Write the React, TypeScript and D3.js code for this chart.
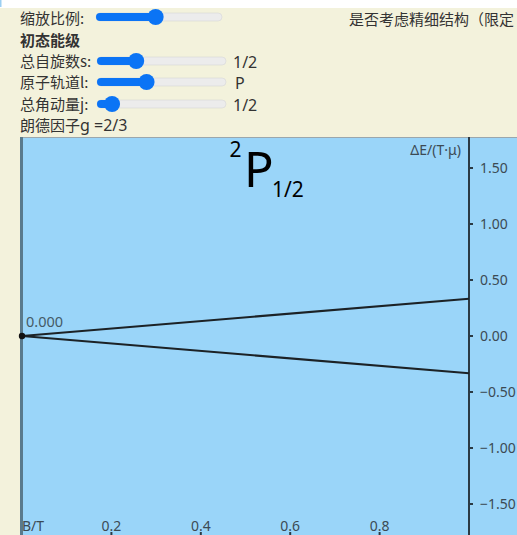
import React from "react";
import * as d3 from "d3";

// Zeeman splitting of the initial level: ΔE = g · mj · B
const fieldB = [0, 1];
const mjLevels = [0.5, -0.5];
const landeG = 2 / 3;
const energyTicks = [1.5, 1, 0.5, 0, -0.5, -1, -1.5];
const fieldTicks = [0.2, 0.4, 0.6, 0.8];

// Control panel rows
const quantumLabels = ["总自旋数s:", "原子轨道l:", "总角动量j:"];
const quantumValues = ["1/2", "P", "1/2"];
const quantumThumbs = [0.28, 0.37, 0.07];
const zoomThumb = 0.47;

const W = 517;
const H = 535;
const CJK = "'Noto Sans CJK SC', 'Noto Sans', sans-serif";
const LATIN = "'Noto Sans', 'Noto Sans CJK SC', sans-serif";

function Slider({ x0, x1, cy, frac }: { x0: number; x1: number; cy: number; frac: number }) {
  const tx = x0 + 7 + (x1 - x0 - 14) * frac;
  return (
    <g>
      <rect x={x0} y={cy - 4} width={x1 - x0} height={8} rx={4} fill="#ececec" stroke="#d6d6d6" strokeWidth={0.6} />
      <rect x={x0} y={cy - 4} width={tx - x0} height={8} rx={4} fill="#0b74f5" />
      <circle cx={tx} cy={cy} r={8} fill="#0b74f5" />
    </g>
  );
}

export default function App() {
  const x = d3.scaleLinear().domain([0, 1]).range([22, 469]);
  const y = d3.scaleLinear().domain([-1.777, 1.777]).range([535, 137]);

  const levelPath = (mj: number) =>
    d3
      .line<number>()
      .x((b) => x(b))
      .y((b) => y(landeG * mj * b))(fieldB) as string;

  const rowY = [67, 88, 110];

  return (
    <div style={{ position: "fixed", left: 0, top: 0 }}>
      <svg width={W} height={H} style={{ display: "block" }}>
        <rect x={0} y={0} width={W} height={H} fill="#f3f2dc" />
        <rect x={0} y={0} width={W} height={8} fill="#ffffff" />
        <rect x={0} y={0} width={1.5} height={7} fill="#9ccff2" />

        {/* controls */}
        <g fill="#333" fontFamily={CJK} fontSize={15}>
          <text x={20} y={24}>缩放比例:</text>
          <Slider x0={96} x1={222} cy={17} frac={zoomThumb} />
          <text x={349} y={25}>是否考虑精细结构（限定</text>
          <text x={20} y={46} fontWeight="bold">初态能级</text>
          {quantumLabels.map((lab, i) => (
            <g key={lab}>
              <text x={20} y={rowY[i]}>{lab}</text>
              <Slider x0={97} x1={226} cy={rowY[i] - 6} frac={quantumThumbs[i]} />
              <text x={i === 1 ? 235 : 233} y={rowY[i] + 1} fontFamily={LATIN} fontSize={16}>
                {quantumValues[i]}
              </text>
            </g>
          ))}
          <text x={20} y={131}>
            朗德因子<tspan fontFamily={LATIN} fontSize={16}>g =2/3</tspan>
          </text>
        </g>

        {/* plot area */}
        <rect x={20} y={137} width={W - 20} height={H - 137} fill="#9ad5f9" />
        <line x1={20} x2={W} y1={137.5} y2={137.5} stroke="#9aa7ad" strokeWidth={1} />
        <line x1={21.5} x2={21.5} y1={137} y2={H} stroke="#5a7a8c" strokeWidth={3} />

        {/* title */}
        <g fill="#000" fontFamily={LATIN}>
          <text x={229.5} y={157} fontSize={21}>2</text>
          <text x={244} y={187} fontSize={49}>P</text>
          <text x={272} y={197} fontSize={21}>1/2</text>
        </g>

        {/* energy axis on the right */}
        <line x1={469} x2={469} y1={137} y2={H} stroke="#2b3a44" strokeWidth={2} />
        <g fontFamily={LATIN} fontSize={14} fill="#3c4a54">
          {energyTicks.map((t) => (
            <g key={t}>
              <line x1={469} x2={473} y1={y(t)} y2={y(t)} stroke="#2b3a44" strokeWidth={2} />
              <text x={480} y={y(t) + 5}>{d3.format(".2f")(t)}</text>
            </g>
          ))}
          <text x={461} y={155} fontSize={14} textAnchor="end">ΔE/(T·μ)</text>
        </g>

        {/* field axis labels along the bottom */}
        <g fontFamily={LATIN} fontSize={14} fill="#3c4a54">
          <text x={22} y={531}>B/T</text>
          {fieldTicks.map((t) => (
            <g key={t}>
              <text x={x(t)} y={531} textAnchor="middle">{d3.format(".1f")(t)}</text>
              <line x1={x(t)} x2={x(t)} y1={532} y2={H} stroke="#2b3a44" strokeWidth={2} />
            </g>
          ))}
        </g>

        {/* split levels */}
        {mjLevels.map((mj) => (
          <path key={mj} d={levelPath(mj)} fill="none" stroke="#1c2226" strokeWidth={2} />
        ))}
        <circle cx={x(0)} cy={y(0)} r={3.2} fill="#111" />
        <text x={26} y={327} fontFamily={LATIN} fontSize={14.5} fill="#455a66">
          {d3.format(".3f")(landeG * 0 * fieldB[0])}
        </text>
      </svg>
    </div>
  );
}
